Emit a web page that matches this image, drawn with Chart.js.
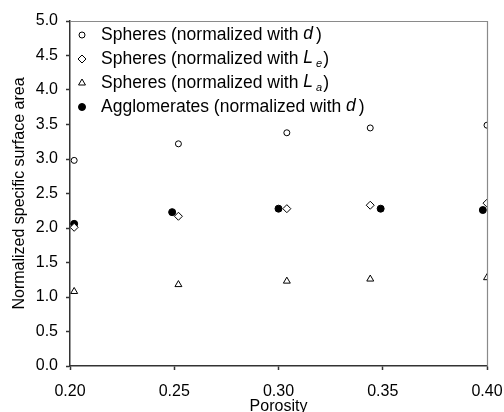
<!DOCTYPE html>
<html>
<head>
<meta charset="utf-8">
<script src="https://cdn.jsdelivr.net/npm/chart.js@4/dist/chart.umd.min.js"></script>
<style>
  html, body { margin: 0; padding: 0; background: #fff; overflow: hidden; }
  canvas { display: block; }
</style>
</head>
<body>
<canvas id="surfChart" width="504" height="412"></canvas>
<script>
// porosity positions (the two groups are offset a little in the original)
const sphereX = [0.202, 0.252, 0.304, 0.344, 0.400];
const aggloX = [0.202, 0.249, 0.300, 0.349, 0.398];

const spheresD = [2.98, 3.22, 3.38, 3.45, 3.49];
const spheresLe = [2.01, 2.17, 2.28, 2.33, 2.36];
const spheresLa = [1.08, 1.18, 1.23, 1.26, 1.28];
const agglomD = [2.06, 2.23, 2.28, 2.28, 2.26];

const xTicks = [0.20, 0.25, 0.30, 0.35, 0.40];
const yTicks = [0, 0.5, 1, 1.5, 2, 2.5, 3, 3.5, 4, 4.5, 5];

// legend text pieces: [text, style] where style is '' | 'i' | 'sub'
const legendParts = [
    [['Spheres (normalized with ', ''], ['d', 'i'], [')', '']],
    [['Spheres (normalized with ', ''], ['L', 'i'], ['e', 'sub'], [')', '']],
    [['Spheres (normalized with ', ''], ['L', 'i'], ['a', 'sub'], [')', '']],
    [['Agglomerates (normalized with ', ''], ['d', 'i'], [')', '']]
];

const FONT = '"Liberation Sans", Arial, sans-serif';

const pts = (xs, ys) => xs.map((x, i) => ({ x: x, y: ys[i] }));

// top / right frame in grey
const framePlugin = {
    id: 'frame',
    afterDraw(chart) {
        const xs = chart.scales.x, ys = chart.scales.y, ctx = chart.ctx;
        const t = Math.round(ys.top) + 0.5, r = Math.round(xs.right) + 0.5;
        ctx.save();
        ctx.strokeStyle = '#8a8a8a';
        ctx.lineWidth = 1.2;
        ctx.beginPath();
        ctx.moveTo(xs.left, t);
        ctx.lineTo(r, t);
        ctx.lineTo(r, ys.bottom);
        ctx.stroke();
        ctx.restore();
    }
};

// legend with italic / subscript pieces
const richLegend = {
    id: 'richLegend',
    afterDraw(chart) {
        const ctx = chart.ctx;
        const a = chart.chartArea;
        ctx.save();
        chart.data.datasets.forEach((ds, i) => {
            const y = a.top + 14 + i * 24;
            ctx.fillStyle = ds.backgroundColor;
            ctx.strokeStyle = ds.borderColor;
            ctx.lineWidth = ds.borderWidth;
            Chart.helpers.drawPoint(ctx, {
                pointStyle: ds.pointStyle,
                radius: ds.pointRadius,
                borderWidth: ds.borderWidth
            }, a.left + 12, y);
            let x = a.left + 31;
            ctx.fillStyle = '#000';
            ctx.textBaseline = 'middle';
            legendParts[i].forEach(([t, s]) => {
                if (s === 'i') {
                    ctx.font = 'italic 17.5px ' + FONT;
                    ctx.fillText(t, x, y - 1);
                    x += ctx.measureText(t).width + 3;
                } else if (s === 'sub') {
                    ctx.font = 'italic 11px ' + FONT;
                    ctx.fillText(t, x, y + 5);
                    x += ctx.measureText(t).width + 1;
                } else {
                    ctx.font = '17.5px ' + FONT;
                    ctx.fillText(t, x, y);
                    x += ctx.measureText(t).width;
                }
            });
        });
        ctx.restore();
    }
};

const ctx = document.getElementById('surfChart').getContext('2d');

new Chart(ctx, {
    type: 'scatter',
    data: {
        datasets: [{
            label: 'Spheres (normalized with d)',
            data: pts(sphereX, spheresD),
            pointStyle: 'circle',
            pointRadius: 3,
            backgroundColor: '#fff',
            borderColor: '#000',
            borderWidth: 1
        }, {
            label: 'Spheres (normalized with Le)',
            data: pts(sphereX, spheresLe),
            pointStyle: 'rectRot',
            pointRadius: 4,
            backgroundColor: '#fff',
            borderColor: '#000',
            borderWidth: 1
        }, {
            label: 'Spheres (normalized with La)',
            data: pts(sphereX, spheresLa),
            pointStyle: 'triangle',
            pointRadius: 4,
            backgroundColor: '#fff',
            borderColor: '#000',
            borderWidth: 1
        }, {
            label: 'Agglomerates (normalized with d)',
            data: pts(aggloX, agglomD),
            pointStyle: 'circle',
            pointRadius: 3.5,
            backgroundColor: '#000',
            borderColor: '#000',
            borderWidth: 1
        }]
    },
    options: {
        responsive: false,
        animation: false,
        layout: { padding: { left: 0, right: 17, top: 21, bottom: 0 } },
        plugins: {
            legend: { display: false },
            tooltip: { enabled: false }
        },
        scales: {
            x: {
                type: 'linear',
                min: xTicks[0],
                max: xTicks[xTicks.length - 1],
                afterFit: (s) => {
                    s.height = 46;
                    // tick padding would otherwise push the right edge in
                    s.paddingLeft = 0;
                    s.paddingRight = 0;
                },
                grid: { display: true, drawOnChartArea: false, drawTicks: true, tickLength: 4, color: '#333', tickWidth: 1.5 },
                border: { display: true, color: '#333', width: 1.5 },
                ticks: {
                    stepSize: xTicks[1] - xTicks[0],
                    color: '#000',
                    padding: 12,
                    font: { family: FONT, size: 16 },
                    callback: (v) => v.toFixed(2)
                },
                title: {
                    display: true,
                    text: 'Porosity',
                    color: '#000',
                    padding: { top: 0, bottom: -4 },
                    font: { family: FONT, size: 16 }
                }
            },
            y: {
                min: yTicks[0],
                max: yTicks[yTicks.length - 1],
                afterFit: (s) => { s.width = 70; },
                grid: { display: true, drawOnChartArea: false, drawTicks: true, tickLength: 4, color: '#333', tickWidth: 1.5 },
                border: { display: true, color: '#333', width: 1.5 },
                ticks: {
                    stepSize: yTicks[1] - yTicks[0],
                    color: '#000',
                    padding: 8,
                    font: { family: FONT, size: 16 },
                    callback: (v) => v.toFixed(1)
                },
                title: {
                    display: true,
                    text: 'Normalized specific surface area',
                    color: '#000',
                    padding: { top: 10, bottom: 0 },
                    font: { family: FONT, size: 16 }
                }
            }
        }
    },
    plugins: [framePlugin, richLegend]
});
</script>
</body>
</html>
